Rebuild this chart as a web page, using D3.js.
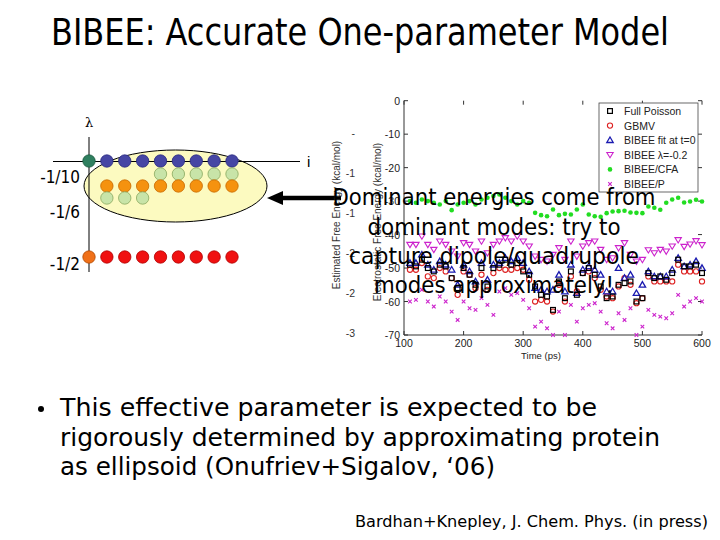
<!DOCTYPE html>
<html><head><meta charset="utf-8">
<script src="https://cdn.jsdelivr.net/npm/d3@7"></script>
<style>body{margin:0;background:#fff}svg{display:block}</style>
</head><body>
<script>
// ---------- data ----------
const times = d3.range(110, 601, 10);
const fullPoisson = [-49,-49.5,-47.5,-50,-51,-49,-49.5,-53,-56,-50,-52,-55,-50,-55.5,-50,-49,-47.5,-49,-48.5,-51,-52,-55.5,-58,-58.5,-62.5,-54,-59,-51,-58,-51.5,-50,-52,-55.5,-59,-58.5,-55,-54.5,-54,-60,-59,-51.5,-53,-52.5,-53.5,-51.5,-47.5,-49.5,-49.5,-49,-51.5];
const gbmv = [-50.5,-50.5,-48.5,-52.5,-53,-50,-51,-53,-58,-51,-52,-56,-52,-56.5,-51.5,-50,-50.5,-50.5,-50,-50.5,-53.5,-60,-59.5,-60,-63,-55,-60,-52.5,-57,-51.5,-51,-53,-56.5,-58.5,-59,-55.5,-53,-55,-60.5,-59,-52.5,-54,-54,-54,-54,-49,-51,-51,-51,-54];
const bibeeFit = [-48.5,-48.5,-46,-49,-50.5,-48,-49,-50.5,-55,-49,-51,-54,-48.5,-53.5,-49,-48.5,-47,-48,-47,-48.5,-51,-56,-56.5,-57,-56.5,-52,-57,-49,-57.5,-50.5,-49.5,-50.5,-52,-57,-57,-50,-53,-52,-57.5,-55,-51,-52.5,-52.5,-52.5,-50.5,-47,-49.5,-49,-48,-50];
const bibeeLam = [-43,-43,-40.5,-43,-44.5,-42,-43,-45,-46.5,-42.5,-43,-45,-42,-45.5,-43,-42,-41,-42,-40.5,-42,-43.5,-46.5,-47.5,-48,-46,-44,-47.5,-42,-46.5,-43.5,-42.5,-42,-44.5,-47.5,-47,-44,-42.5,-46,-48,-47.5,-44.6,-45.5,-44.5,-45,-43.5,-41.6,-43.6,-42.9,-41.9,-43.1];
const bibeeCFA = [-30,-30.5,-29.5,-30,-30.5,-31,-30,-32.7,-31,-30.5,-30,-31,-29.5,-29,-28.5,-28,-29,-30,-31,-30,-30.5,-33.5,-34.2,-34.5,-32.5,-34.2,-33.8,-34,-32.5,-31,-34,-34.5,-34.7,-33.6,-33.1,-33,-32.9,-33.4,-33.5,-33.6,-31.6,-32,-32.6,-30.5,-29.5,-29,-30.4,-30.1,-29.6,-30.1];
const bibeeP = [-60,-59.5,-56.5,-60,-61.5,-58.5,-60,-63,-65.5,-60,-62,-62.5,-59,-61,-64,-57,-56,-58,-57.5,-59.5,-62,-67.5,-66,-68,-70,-63,-70,-61,-66,-62,-61,-60.5,-63,-66.5,-68,-63.5,-65.5,-62,-70,-67.5,-62.5,-64,-64.5,-65,-63.5,-58,-61.5,-60,-59,-60];
const seriesNames = ["Full Poisson","GBMV","BIBEE fit at t=0","BIBEE \u03bb=-0.2","BIBEE/CFA","BIBEE/P"];
const seriesValues = [fullPoisson, gbmv, bibeeFit, bibeeLam, bibeeCFA, bibeeP];
const xTicks = [100,200,300,400,500,600];
const yTicks = [0,-10,-20,-30,-40,-50,-60,-70];
const outerTickLabels = ["-","-1","-1","-2","-2","-3"];

// diagram data
const lambdaLabels = ["-1/10","-1/6","-1/2"];
const diagRow1 = ["g","b","b","b","b","b","b","b","b"];
const diagRow2 = ["","","","","l","l","l","l","l"];
const diagRow3 = ["","o","o","o","o","o","o","o","o"];
const diagRow4 = ["","l","l","l","","","","",""];
const diagRow5 = ["d","r","r","r","r","r","r","r","r"];

const titleText = "BIBEE: Accurate One-parameter Model";
const overlayLines = ["Dominant energies come from","dominant modes: try to","capture dipole/quadrupole","modes approximately!"];
const bulletLines = ["This effective parameter is expected to be","rigorously determined by approximating protein","as ellipsoid (Onufriev+Sigalov, \u201806)"];
const citation = "Bardhan+Knepley, J. Chem. Phys. (in press)";

// ---------- drawing ----------
const W = 720, H = 540;
const svg = d3.select("body").append("svg").attr("width", W).attr("height", H);
svg.append("rect").attr("width", W).attr("height", H).attr("fill", "#fff");
const slideFont = "'DejaVu Sans Condensed','DejaVu Sans',sans-serif";
const plotFont = "'Liberation Sans',Arial,sans-serif";

// title
svg.append("text").attr("x", 360).attr("y", 45).attr("text-anchor", "middle")
  .attr("font-family", slideFont).attr("font-size", 37).attr("fill", "#000")
  .attr("textLength", 618).attr("lengthAdjust", "spacingAndGlyphs").text(titleText);

// ----- left diagram -----
const colorMap = {g:["#2f7f5f","#1d5a40"], b:["#4646a4","#2a2a80"], l:["#c8e4a8","#8aa860"], o:["#f5920f","#c86a00"], r:["#f01010","#b00000"], d:["#f07018","#b04800"]};
const dx = d3.scaleLinear().domain([0, 8]).range([89, 232]);
svg.append("ellipse").attr("cx", 175.5).attr("cy", 186).attr("rx", 91.5).attr("ry", 36)
  .attr("fill", "#fcfac0").attr("stroke", "#000").attr("stroke-width", 1);
svg.append("line").attr("x1", 89).attr("x2", 89).attr("y1", 137).attr("y2", 272).attr("stroke", "#000");
svg.append("line").attr("x1", 53).attr("x2", 300).attr("y1", 161.5).attr("y2", 161.5).attr("stroke", "#000");
svg.append("text").attr("x", 307).attr("y", 167).attr("font-family", plotFont).attr("font-size", 15).text("i");
svg.append("text").attr("x", 89).attr("y", 127).attr("text-anchor", "middle").attr("font-family", "'DejaVu Serif',serif").attr("font-size", 13).text("\u03bb");
const rowY = [161, 174, 186, 198, 257];
[diagRow1, diagRow2, diagRow3, diagRow4, diagRow5].forEach((row, ri) => {
  svg.append("g").selectAll("circle").data(row.map((c, i) => ({c, i})).filter(d => d.c))
    .join("circle").attr("cx", d => dx(d.i)).attr("cy", rowY[ri]).attr("r", 6.2)
    .attr("fill", d => colorMap[d.c][0]).attr("stroke", d => colorMap[d.c][1]).attr("stroke-width", 0.8);
});
const labY = [183, 218, 270];
svg.append("g").selectAll("text").data(lambdaLabels).join("text")
  .attr("x", 80).attr("y", (d, i) => labY[i]).attr("text-anchor", "end")
  .attr("font-family", slideFont).attr("font-size", 17).attr("fill", "#000").text(d => d);

// arrow
svg.append("line").attr("x1", 341).attr("x2", 280).attr("y1", 198).attr("y2", 198).attr("stroke", "#000").attr("stroke-width", 4.5);
svg.append("path").attr("d", "M267,198 L283,191 L283,205 Z").attr("fill", "#000");

// ----- plot -----
const x = d3.scaleLinear().domain([100, 600]).range([404, 702]);
const y = d3.scaleLinear().domain([-70, 0]).range([335, 100.7]);
const axisColor = "#333";
const gp = svg.append("g");
gp.append("line").attr("x1", 404).attr("x2", 404).attr("y1", y(0)).attr("y2", y(-70)).attr("stroke", axisColor);
gp.append("line").attr("x1", 404).attr("x2", 702).attr("y1", y(-70)).attr("y2", y(-70)).attr("stroke", axisColor);
gp.selectAll(".yt").data(yTicks).join("line").attr("x1", 404).attr("x2", 408).attr("y1", d => y(d)).attr("y2", d => y(d)).attr("stroke", axisColor);
gp.selectAll(".yr").data(yTicks).join("line").attr("x1", 698).attr("x2", 702).attr("y1", d => y(d)).attr("y2", d => y(d)).attr("stroke", axisColor);
gp.selectAll(".xt").data(xTicks).join("line").attr("x1", d => x(d)).attr("x2", d => x(d)).attr("y1", 335).attr("y2", 331).attr("stroke", axisColor);
gp.selectAll(".xtt").data(xTicks).join("line").attr("x1", d => x(d)).attr("x2", d => x(d)).attr("y1", 100.7).attr("y2", 104.7).attr("stroke", axisColor);
gp.selectAll(".yl").data(yTicks).join("text").attr("x", 400).attr("y", d => y(d) + 4).attr("text-anchor", "end")
  .attr("font-family", plotFont).attr("font-size", 10.5).attr("fill", "#222").text(d => d);
gp.selectAll(".xl").data(xTicks).join("text").attr("x", d => x(d)).attr("y", 347).attr("text-anchor", "middle")
  .attr("font-family", plotFont).attr("font-size", 10.5).attr("fill", "#222").text(d => d);
gp.append("text").attr("x", 541).attr("y", 359).attr("text-anchor", "middle").attr("font-family", plotFont).attr("font-size", 9.5).attr("fill", "#222").text("Time (ps)");
gp.selectAll(".ol").data(outerTickLabels).join("text").attr("x", 355).attr("y", (d, i) => 137 + i * 40).attr("text-anchor", "end")
  .attr("font-family", plotFont).attr("font-size", 10.5).attr("fill", "#333").text(d => d);
gp.append("text").attr("transform", "translate(340,215) rotate(-90)").attr("text-anchor", "middle")
  .attr("font-family", plotFont).attr("font-size", 10).attr("fill", "#333").text("Estimated Free Energy (kcal/mol)");
gp.append("text").attr("transform", "translate(381,222) rotate(-90)").attr("text-anchor", "middle")
  .attr("font-family", plotFont).attr("font-size", 10).attr("fill", "#333").text("Electrostatic Free Energy (kcal/mol)");

// markers
const colors = ["#000000", "#dd2222", "#1a1ab0", "#cc22cc", "#22dd22", "#cc22cc"];
function drawMarker(sel, k, px, py) {
  if (k === 0) sel.append("rect").attr("x", px - 2.4).attr("y", py - 2.4).attr("width", 4.8).attr("height", 4.8).attr("fill", "none").attr("stroke", colors[0]).attr("stroke-width", 1.2);
  else if (k === 1) sel.append("circle").attr("cx", px).attr("cy", py).attr("r", 2.6).attr("fill", "none").attr("stroke", colors[1]).attr("stroke-width", 1.1);
  else if (k === 2) sel.append("path").attr("d", `M${px},${py - 3.2} L${px + 3.2},${py + 2.3} L${px - 3.2},${py + 2.3} Z`).attr("fill", "none").attr("stroke", colors[2]).attr("stroke-width", 1.3);
  else if (k === 3) sel.append("path").attr("d", `M${px},${py + 3} L${px + 3.2},${py - 2.3} L${px - 3.2},${py - 2.3} Z`).attr("fill", "none").attr("stroke", colors[3]).attr("stroke-width", 1.1);
  else if (k === 4) sel.append("circle").attr("cx", px).attr("cy", py).attr("r", 2.3).attr("fill", colors[4]);
  else sel.append("path").attr("d", `M${px - 1.8},${py - 1.8} L${px + 1.8},${py + 1.8} M${px - 1.8},${py + 1.8} L${px + 1.8},${py - 1.8}`).attr("stroke", colors[5]).attr("stroke-width", 1.1);
}
const order = [5, 4, 3, 1, 2, 0];
order.forEach(k => {
  const g = gp.append("g");
  seriesValues[k].forEach((v, i) => drawMarker(g, k, x(times[i]), y(v)));
});

// legend
const lg = gp.append("g");
lg.append("rect").attr("x", 599).attr("y", 103).attr("width", 99).attr("height", 89).attr("fill", "#fff").attr("stroke", "#444").attr("stroke-width", 0.8);
seriesNames.forEach((n, k) => {
  const ly = 111 + k * 14.6;
  drawMarker(lg, k, 610, ly);
  lg.append("text").attr("x", 624).attr("y", ly + 4).attr("font-family", plotFont).attr("font-size", 10.5).attr("fill", "#222").text(n);
});

// overlay text
const ovBase = [205, 235, 264, 293];
const ovLen = [323, 253, 290, 240];
svg.append("g").selectAll("text").data(overlayLines).join("text")
  .attr("x", 494).attr("y", (d, i) => ovBase[i]).attr("text-anchor", "middle")
  .attr("font-family", slideFont).attr("font-size", 23).attr("fill", "#000")
  .attr("textLength", (d, i) => ovLen[i]).attr("lengthAdjust", "spacingAndGlyphs").text(d => d);

// bullet
svg.append("circle").attr("cx", 41).attr("cy", 409).attr("r", 3).attr("fill", "#000");
const bLen = [537, 600, 435];
svg.append("g").selectAll("text").data(bulletLines).join("text")
  .attr("x", 60).attr("y", (d, i) => 416 + i * 29.5)
  .attr("font-family", slideFont).attr("font-size", 25).attr("fill", "#000")
  .attr("textLength", (d, i) => bLen[i]).attr("lengthAdjust", "spacingAndGlyphs").text(d => d);

svg.append("text").attr("x", 355).attr("y", 527).attr("font-family", slideFont).attr("font-size", 15.5).attr("fill", "#000")
  .attr("textLength", 353).attr("lengthAdjust", "spacingAndGlyphs").text(citation);
</script>
</body></html>
